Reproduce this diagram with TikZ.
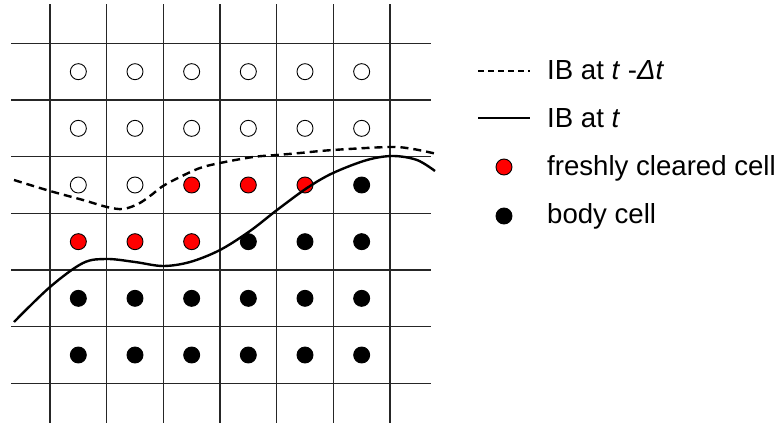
\documentclass[tikz,border=0pt]{standalone}
\usepackage{fontspec}
\setmainfont{Liberation Sans}
\begin{document}
\begin{tikzpicture}[x=1pt,y=-1pt,
  gridline/.style={line width=1.3pt,black!85},
  cellpt/.style={circle,inner sep=0pt,minimum size=16pt,line width=0.9pt,draw=black},
  fluid/.style={cellpt,fill=white},
  cleared/.style={cellpt,fill=red},
  body/.style={cellpt,fill=black},
  oldib/.style={line width=2.4pt,dash pattern=on 8pt off 5pt},
  newib/.style={line width=2.4pt},
  legtext/.style={anchor=base west,inner sep=0pt,font=\fontsize{27.6}{30}\selectfont}]
\useasboundingbox (0,0) rectangle (782,423);

% grid
\foreach \k in {0,...,6}{
  \draw[gridline] ({50+\k*56.667},4) -- ({50+\k*56.667},423);
  \draw[gridline] (11,{43.333+\k*56.667}) -- (431,{43.333+\k*56.667});
}

% cell markers: rows j = 0..5 from top, columns i = 0..5 from left
\foreach \j/\row in {0/{fluid,fluid,fluid,fluid,fluid,fluid},
                     1/{fluid,fluid,fluid,fluid,fluid,fluid},
                     2/{fluid,fluid,cleared,cleared,cleared,body},
                     3/{cleared,cleared,cleared,body,body,body},
                     4/{body,body,body,body,body,body},
                     5/{body,body,body,body,body,body}}{
  \foreach \kind [count=\i from 0] in \row
    \node[\kind] (c-\i-\j) at ({78.333+\i*56.667},{71.667+\j*56.667}) {};
}

% interface at t - dt
\draw[oldib] plot[smooth,tension=0.55] coordinates {
  (14,180) (50,191) (83,200) (107,207) (123,209) (138,204) (150,196)
  (163,186) (180,177) (200,168) (220,163) (253,157) (277,155) (300,153)
  (333,150) (390,147) (413,149) (437,154)};

% interface at t
\draw[newib] plot[smooth,tension=0.55] coordinates {
  (14,322) (50,287) (83,263) (107,259) (135,262) (163,266) (190,262)
  (220,250) (250,231) (277,210) (307,188) (333,173) (367,160) (393,156)
  (417,160) (435,171)};

% legend
\coordinate (l1a) at (478,71);  \coordinate (l1b) at (530,71);
\coordinate (l2a) at (478,118); \coordinate (l2b) at (530,118);
\draw[line width=1.6pt,dash pattern=on 6pt off 4pt] (l1a) -- (l1b);
\draw[line width=1.8pt] (l2a) -- (l2b);
\node[cleared] (lg-red) at (504,167) {};
\node[body] (lg-black) at (504,216) {};
\node[legtext] (t1) at (547,79) {IB at \textit{t} -\textit{Δt}};
\node[legtext] (t2) at (547,127) {IB at \textit{t}};
\node[legtext] (t3) at (547,175) {freshly cleared cell};
\node[legtext] (t4) at (547,223) {body cell};
\end{tikzpicture}
\end{document}
